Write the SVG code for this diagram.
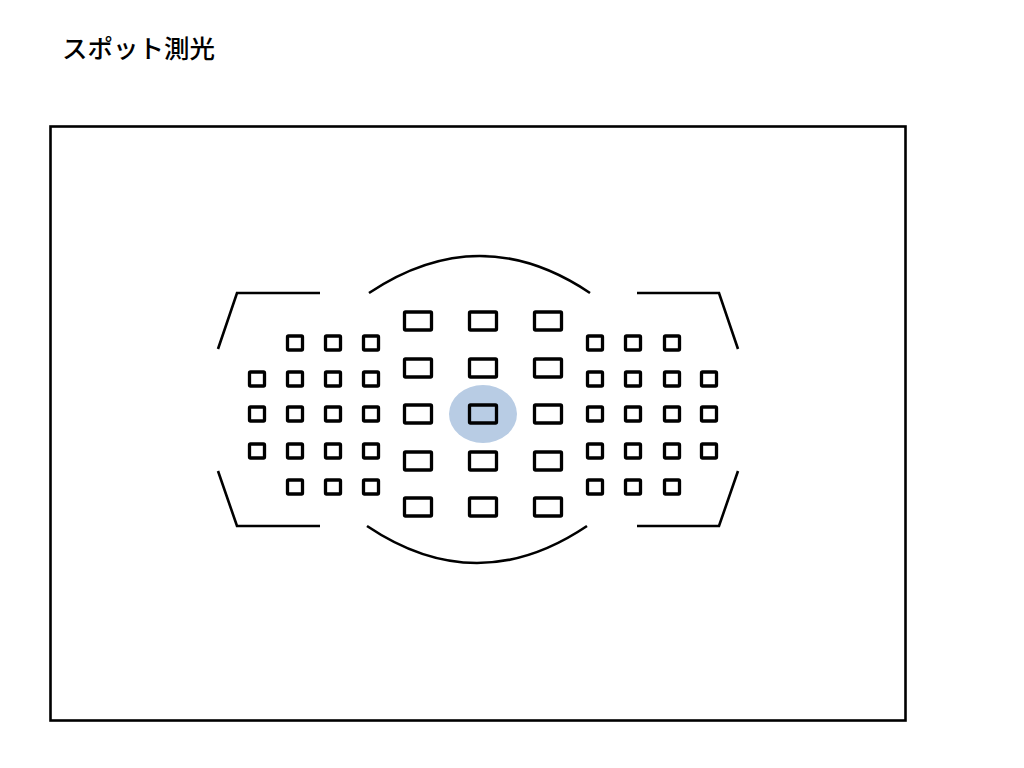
<svg xmlns="http://www.w3.org/2000/svg" width="1024" height="768" viewBox="0 0 1024 768">
<style>
.ln{fill:none;stroke:#000;stroke-width:2.6;}
.s{fill:none;stroke:#000;stroke-width:3.3;}
.l{fill:none;stroke:#000;stroke-width:3.3;}
.t{font-family:"Noto Sans CJK JP","Noto Sans",sans-serif;font-size:25.5px;font-weight:500;fill:#000;}
</style>
<defs>
<rect id="sq" x="-7.5" y="-7" width="15" height="14" rx="1" class="s"/>
<rect id="lg" x="-13.5" y="-9" width="27" height="18" rx="1" class="l"/>
</defs>
<rect width="1024" height="768" fill="#fff"/>
<text class="t" x="62" y="58">スポット測光</text>
<rect x="50.5" y="126.5" width="855" height="594" class="ln" stroke-width="3"/>
<g id="frame-lines">
<path class="ln" d="M218,349 L237,293 L320,293"/>
<path class="ln" d="M218,471 L237,526 L320,526"/>
<path class="ln" d="M738,349 L719,293 L637,293"/>
<path class="ln" d="M738,471 L719,526 L637,526"/>
<path class="ln" d="M369,293 Q480,219 590,293"/>
<path class="ln" d="M367,526 Q477,600 587,526"/>
</g>
<g id="spot">
<ellipse cx="483" cy="414" rx="34" ry="29" fill="#b8cce4"/>
</g>
<g id="large-points">
<use href="#lg" x="418" y="321"/><use href="#lg" x="483" y="321"/><use href="#lg" x="548" y="321"/>
<use href="#lg" x="418" y="368"/><use href="#lg" x="483" y="368"/><use href="#lg" x="548" y="368"/>
<use href="#lg" x="418" y="414"/><use href="#lg" x="483" y="414"/><use href="#lg" x="548" y="414"/>
<use href="#lg" x="418" y="461"/><use href="#lg" x="483" y="461"/><use href="#lg" x="548" y="461"/>
<use href="#lg" x="418" y="507"/><use href="#lg" x="483" y="507"/><use href="#lg" x="548" y="507"/>
</g>
<g id="left-points">
<use href="#sq" x="295" y="343"/><use href="#sq" x="333" y="343"/><use href="#sq" x="371" y="343"/>
<use href="#sq" x="257" y="379"/><use href="#sq" x="295" y="379"/><use href="#sq" x="333" y="379"/><use href="#sq" x="371" y="379"/>
<use href="#sq" x="257" y="414"/><use href="#sq" x="295" y="414"/><use href="#sq" x="333" y="414"/><use href="#sq" x="371" y="414"/>
<use href="#sq" x="257" y="451"/><use href="#sq" x="295" y="451"/><use href="#sq" x="333" y="451"/><use href="#sq" x="371" y="451"/>
<use href="#sq" x="295" y="487"/><use href="#sq" x="333" y="487"/><use href="#sq" x="371" y="487"/>
</g>
<g id="right-points">
<use href="#sq" x="595" y="343"/><use href="#sq" x="633" y="343"/><use href="#sq" x="672" y="343"/>
<use href="#sq" x="595" y="379"/><use href="#sq" x="633" y="379"/><use href="#sq" x="672" y="379"/><use href="#sq" x="709" y="379"/>
<use href="#sq" x="595" y="414"/><use href="#sq" x="633" y="414"/><use href="#sq" x="672" y="414"/><use href="#sq" x="709" y="414"/>
<use href="#sq" x="595" y="451"/><use href="#sq" x="633" y="451"/><use href="#sq" x="672" y="451"/><use href="#sq" x="709" y="451"/>
<use href="#sq" x="595" y="487"/><use href="#sq" x="633" y="487"/><use href="#sq" x="672" y="487"/>
</g>
</svg>
